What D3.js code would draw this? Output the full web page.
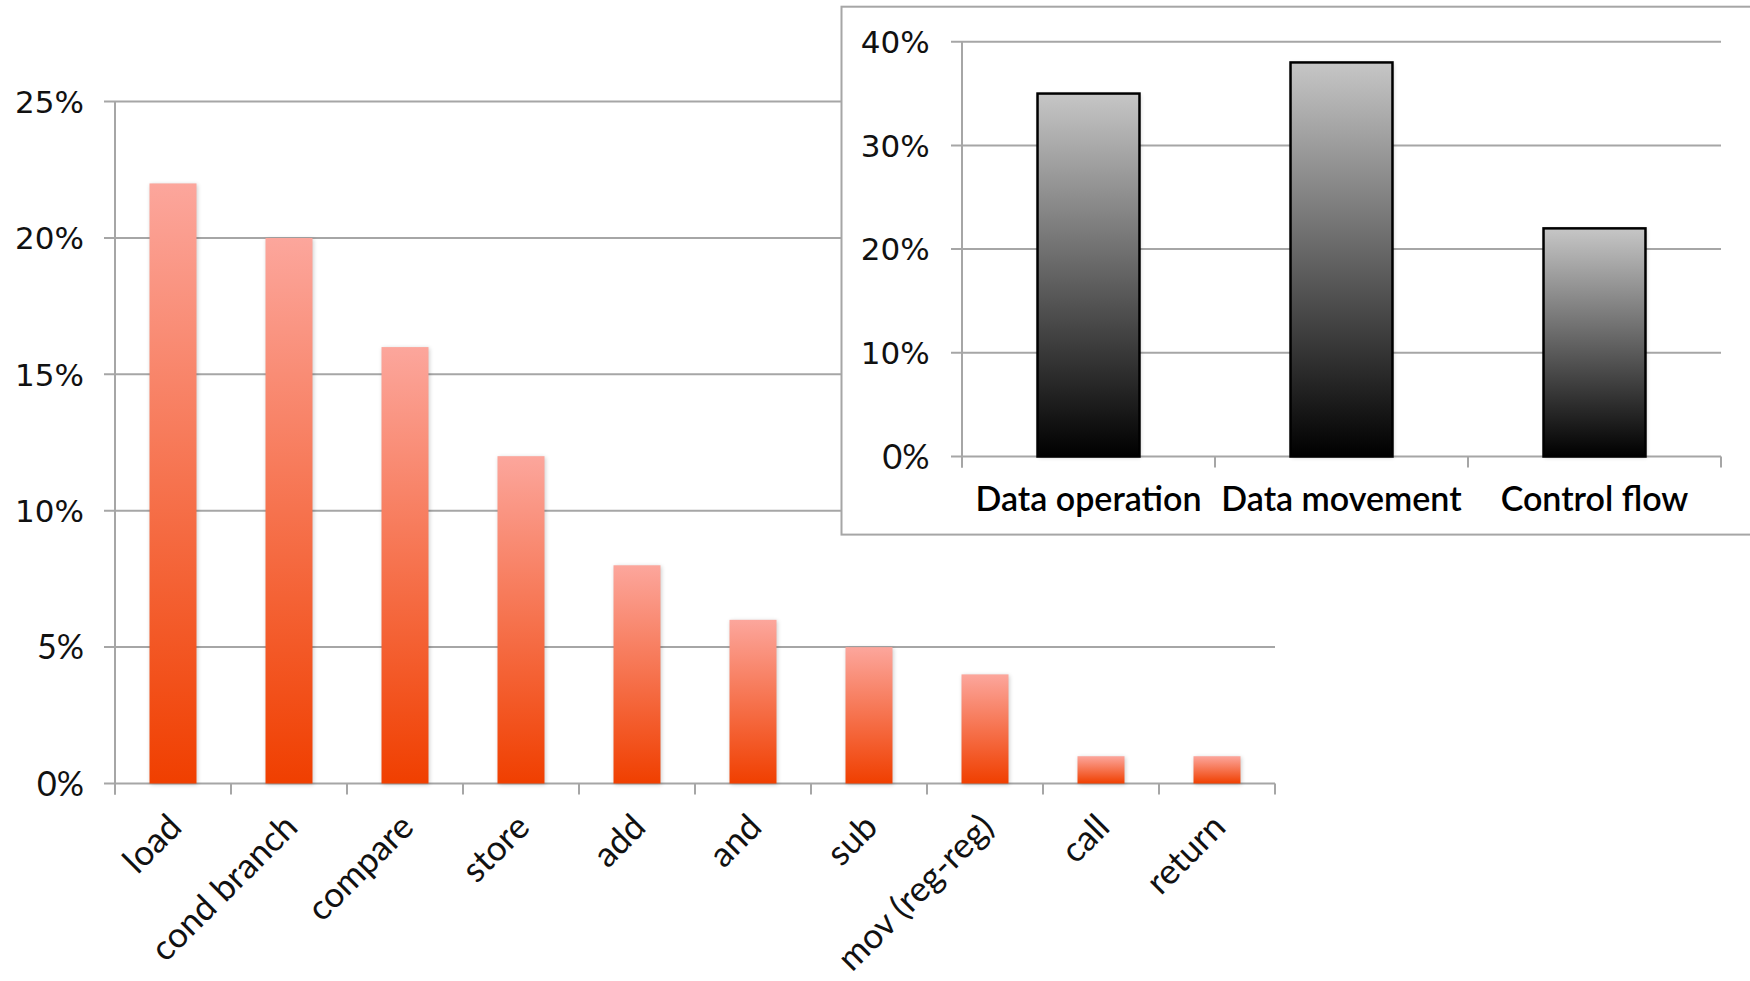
<!DOCTYPE html>
<html>
<head>
<meta charset="utf-8">
<script src="https://cdn.jsdelivr.net/npm/d3@7"></script>
<style>
  html, body { margin: 0; padding: 0; background: #fff; }
  svg { display: block; }
</style>
</head>
<body>
<svg id="chart" width="1750" height="981"></svg>
<script>
// Instruction mix: individual instructions
const categories = ["load", "cond branch", "compare", "store", "add", "and", "sub", "mov (reg-reg)", "call", "return"];
const shares = [22, 20, 16, 12, 8, 6, 5, 4, 1, 1];
const yTicks = [0, 5, 10, 15, 20, 25];

// Instruction mix grouped by class
const groupCategories = ["Data operation", "Data movement", "Control flow"];
const groupShares = [35, 38, 22];
const groupTicks = [0, 10, 20, 30, 40];

const svg = d3.select("#chart");
const defs = svg.append("defs");

const gridColor = "#a6a6a6";
const fmt = d => d + "%";
// two-digit labels render in a wide face, single-digit ones in a narrow face
const tickFont = d => (String(d).length > 1 ? "DejaVu Sans" : "Lato");
const tickSize = d => (String(d).length > 1 ? 31 : 34);

const red = defs.append("linearGradient").attr("id", "redGrad")
  .attr("x1", 0).attr("y1", 0).attr("x2", 0).attr("y2", 1);
red.append("stop").attr("offset", "0%").attr("stop-color", "#fca69c");
red.append("stop").attr("offset", "100%").attr("stop-color", "#f03f00");

const grey = defs.append("linearGradient").attr("id", "greyGrad")
  .attr("x1", 0).attr("y1", 0).attr("x2", 0).attr("y2", 1);
grey.append("stop").attr("offset", "0%").attr("stop-color", "#c6c6c6");
grey.append("stop").attr("offset", "100%").attr("stop-color", "#000000");

// soft shadow drawn under each bar
const shadow = defs.append("filter").attr("id", "barShadow")
  .attr("x", "-30%").attr("y", "-30%").attr("width", "160%").attr("height", "160%");
shadow.append("feGaussianBlur").attr("stdDeviation", 2.2);

// ---------- main chart ----------
const main = { left: 115, right: 1275, top: 101.6, bottom: 783.5 };
const x = d3.scaleBand().domain(categories).range([main.left, main.right])
  .paddingInner(0.595).paddingOuter(0.2975);
const y = d3.scaleLinear().domain([0, 25]).range([main.bottom, main.top]);

const gMain = svg.append("g");

gMain.append("g").selectAll("line").data(yTicks).join("line")
  .attr("x1", main.left - 11).attr("x2", main.right)
  .attr("y1", d => y(d)).attr("y2", d => y(d))
  .attr("stroke", gridColor).attr("stroke-width", 2);

gMain.append("line")
  .attr("x1", main.left).attr("x2", main.left)
  .attr("y1", y(25)).attr("y2", y(0) + 11)
  .attr("stroke", gridColor).attr("stroke-width", 2);

const bounds = categories.map((c, i) => main.left + i * x.step());
bounds.push(main.right);
gMain.append("g").selectAll("line").data(bounds).join("line")
  .attr("x1", d => d).attr("x2", d => d)
  .attr("y1", y(0)).attr("y2", y(0) + 11)
  .attr("stroke", gridColor).attr("stroke-width", 2);

gMain.append("g").selectAll("text").data(yTicks).join("text")
  .attr("x", 84).attr("y", d => y(d)).attr("dy", "0.36em")
  .attr("text-anchor", "end")
  .attr("font-family", d => tickFont(d))
  .attr("font-size", d => tickSize(d)).attr("fill", "#111")
  .text(fmt);

gMain.append("g").selectAll("rect").data(categories).join("rect")
  .attr("x", d => x(d) + 1).attr("width", x.bandwidth())
  .attr("y", (d, i) => y(shares[i]) + 1)
  .attr("height", (d, i) => y(0) - y(shares[i]))
  .attr("fill", "#000").attr("opacity", 0.2)
  .attr("filter", "url(#barShadow)");

gMain.append("g").selectAll("rect").data(categories).join("rect")
  .attr("x", d => x(d)).attr("width", x.bandwidth())
  .attr("y", (d, i) => y(shares[i]))
  .attr("height", (d, i) => y(0) - y(shares[i]))
  .attr("fill", "url(#redGrad)");

gMain.append("g").selectAll("text").data(categories).join("text")
  .attr("transform", d => `translate(${x(d) + x.bandwidth() / 2 + 2},${y(0) + 37}) rotate(-45)`)
  .attr("text-anchor", "end").attr("dy", "0.35em")
  .attr("font-family", "Lato").attr("font-size", 35).attr("fill", "#111")
  .text(d => d);

// ---------- inset chart ----------
const box = { left: 841.5, top: 6.7, right: 1752, bottom: 534.6 };
svg.append("rect")
  .attr("x", box.left).attr("y", box.top)
  .attr("width", box.right - box.left).attr("height", box.bottom - box.top)
  .attr("fill", "#fff").attr("stroke", gridColor).attr("stroke-width", 2);

const ins = { left: 962, right: 1721, top: 41.7, bottom: 456.5 };
const xi = d3.scaleBand().domain(groupCategories).range([ins.left, ins.right])
  .paddingInner(0.597).paddingOuter(0.2985);
const yi = d3.scaleLinear().domain([0, 40]).range([ins.bottom, ins.top]);

const gIns = svg.append("g");

gIns.append("g").selectAll("line").data(groupTicks).join("line")
  .attr("x1", ins.left - 11).attr("x2", ins.right)
  .attr("y1", d => yi(d)).attr("y2", d => yi(d))
  .attr("stroke", gridColor).attr("stroke-width", 2);

gIns.append("line")
  .attr("x1", ins.left).attr("x2", ins.left)
  .attr("y1", yi(40)).attr("y2", yi(0) + 11)
  .attr("stroke", gridColor).attr("stroke-width", 2);

const iBounds = groupCategories.map((c, i) => ins.left + i * xi.step());
iBounds.push(ins.right);
gIns.append("g").selectAll("line").data(iBounds).join("line")
  .attr("x1", d => d).attr("x2", d => d)
  .attr("y1", yi(0)).attr("y2", yi(0) + 11)
  .attr("stroke", gridColor).attr("stroke-width", 2);

gIns.append("g").selectAll("text").data(groupTicks).join("text")
  .attr("x", 929.6).attr("y", d => yi(d)).attr("dy", "0.36em")
  .attr("text-anchor", "end")
  .attr("font-family", d => tickFont(d))
  .attr("font-size", d => tickSize(d)).attr("fill", "#111")
  .text(fmt);

gIns.append("g").selectAll("rect").data(groupCategories).join("rect")
  .attr("x", d => xi(d) + 1).attr("width", xi.bandwidth())
  .attr("y", (d, i) => yi(groupShares[i]) + 1)
  .attr("height", (d, i) => yi(0) - yi(groupShares[i]))
  .attr("fill", "#000").attr("opacity", 0.2)
  .attr("filter", "url(#barShadow)");

gIns.append("g").selectAll("rect").data(groupCategories).join("rect")
  .attr("x", d => xi(d)).attr("width", xi.bandwidth())
  .attr("y", (d, i) => yi(groupShares[i]))
  .attr("height", (d, i) => yi(0) - yi(groupShares[i]))
  .attr("fill", "url(#greyGrad)")
  .attr("stroke", "#000").attr("stroke-width", 2.5);

gIns.append("g").selectAll("text").data(groupCategories).join("text")
  .attr("x", d => xi(d) + xi.bandwidth() / 2).attr("y", 511)
  .attr("text-anchor", "middle")
  .attr("font-family", "Lato").attr("font-weight", 600)
  .attr("font-size", 34).attr("fill", "#000")
  .text(d => d);
</script>
</body>
</html>
